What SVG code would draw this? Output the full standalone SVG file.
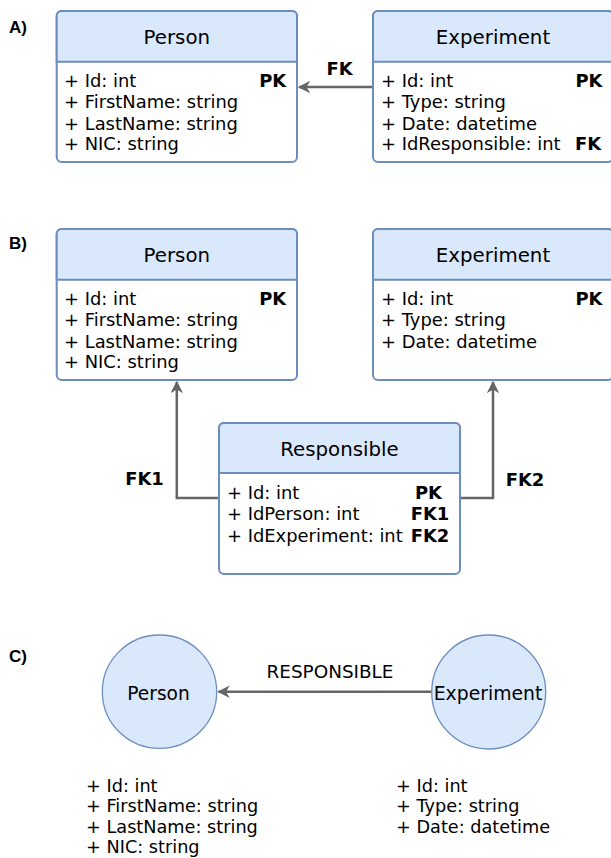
<svg xmlns="http://www.w3.org/2000/svg" width="611" height="858" viewBox="0 0 611 858">
<defs>
<style>
.box{fill:#ffffff;stroke:#6c8ebf;stroke-width:2}
.hdr{fill:#dae8fc;stroke:#6c8ebf;stroke-width:2}
.circ{fill:#dae8fc;stroke:#6c8ebf;stroke-width:1.3}
.title{font-family:"DejaVu Sans",Verdana,sans-serif;font-size:19.8px;fill:#000;text-anchor:middle}
.attr{font-family:"DejaVu Sans",Verdana,sans-serif;font-size:17.9px;fill:#000}
.key{font-family:"DejaVu Sans",Verdana,sans-serif;font-size:17.9px;font-weight:bold;fill:#000;text-anchor:middle}
.lbl{font-family:"DejaVu Sans",Verdana,sans-serif;font-size:17.9px;font-weight:bold;fill:#000;text-anchor:middle}
.sec{font-family:"Liberation Sans",Arial,sans-serif;font-size:17px;font-weight:bold;fill:#000}
.conn{fill:none;stroke:#666666;stroke-width:2.5}
</style>
<marker id="arr" viewBox="0 0 10 10" refX="9" refY="5" markerWidth="5" markerHeight="5" orient="auto" markerUnits="strokeWidth">
<path d="M0,0 L10,5 L0,10 L3,5 Z" fill="#666666"/>
</marker>
</defs>
<rect width="611" height="858" fill="#ffffff"/>

<text class="sec" x="9" y="33">A)</text>
<text class="sec" x="9" y="249">B)</text>
<text class="sec" x="9" y="662">C)</text>

<g id="connectors">
<line class="conn" x1="373" y1="87" x2="299" y2="87" marker-end="url(#arr)"/>
<text class="lbl" x="339.5" y="75">FK</text>
<polyline class="conn" points="219,498 176.8,498 176.8,382" marker-end="url(#arr)"/>
<text class="lbl" x="144.5" y="485">FK1</text>
<polyline class="conn" points="460,498 493,498 493,382" marker-end="url(#arr)"/>
<text class="lbl" x="525" y="486">FK2</text>
<line class="conn" x1="431.7" y1="691.7" x2="218.5" y2="691.7" marker-end="url(#arr)"/>
<text class="title" x="330" y="677.5" style="font-size:18.4px">RESPONSIBLE</text>
</g>

<g id="personA">
<rect class="box" x="56.7" y="11" width="240.3" height="151" rx="5"/>
<path class="hdr" d="M56.7,61.7 V16 a5,5 0 0 1 5,-5 H292 a5,5 0 0 1 5,5 V61.7 Z"/>
<text class="title" x="176.8" y="43.5">Person</text>
<text class="attr" x="64" y="87">+ Id: int</text>
<text class="attr" x="64" y="108">+ FirstName: string</text>
<text class="attr" x="64" y="129.5">+ LastName: string</text>
<text class="attr" x="64" y="150">+ NIC: string</text>
<text class="key" x="272.7" y="87">PK</text>
</g>

<g id="experimentA">
<rect class="box" x="373" y="11" width="240" height="151" rx="5"/>
<path class="hdr" d="M373,61.7 V16 a5,5 0 0 1 5,-5 H608 a5,5 0 0 1 5,5 V61.7 Z"/>
<text class="title" x="493" y="43.5">Experiment</text>
<text class="attr" x="381" y="87">+ Id: int</text>
<text class="attr" x="381" y="108">+ Type: string</text>
<text class="attr" x="381" y="129.5">+ Date: datetime</text>
<text class="attr" x="381" y="150">+ IdResponsible: int</text>
<text class="key" x="589" y="87">PK</text>
<text class="key" x="588" y="150">FK</text>
</g>

<g id="personB">
<rect class="box" x="56.7" y="229" width="240.3" height="151" rx="5"/>
<path class="hdr" d="M56.7,279.7 V234 a5,5 0 0 1 5,-5 H292 a5,5 0 0 1 5,5 V279.7 Z"/>
<text class="title" x="176.8" y="261.5">Person</text>
<text class="attr" x="64" y="305">+ Id: int</text>
<text class="attr" x="64" y="326">+ FirstName: string</text>
<text class="attr" x="64" y="347.5">+ LastName: string</text>
<text class="attr" x="64" y="368">+ NIC: string</text>
<text class="key" x="272.7" y="305">PK</text>
</g>

<g id="experimentB">
<rect class="box" x="373" y="229" width="240" height="151" rx="5"/>
<path class="hdr" d="M373,279.7 V234 a5,5 0 0 1 5,-5 H608 a5,5 0 0 1 5,5 V279.7 Z"/>
<text class="title" x="493" y="261.5">Experiment</text>
<text class="attr" x="381" y="305">+ Id: int</text>
<text class="attr" x="381" y="326">+ Type: string</text>
<text class="attr" x="381" y="347.5">+ Date: datetime</text>
<text class="key" x="589" y="305">PK</text>
</g>

<g id="responsibleB">
<rect class="box" x="219" y="423" width="241" height="151" rx="5"/>
<path class="hdr" d="M219,473 V428 a5,5 0 0 1 5,-5 H455 a5,5 0 0 1 5,5 V473 Z"/>
<text class="title" x="339.5" y="455.5">Responsible</text>
<text class="attr" x="227" y="499">+ Id: int</text>
<text class="attr" x="227" y="520">+ IdPerson: int</text>
<text class="attr" x="227" y="541.5">+ IdExperiment: int</text>
<text class="key" x="428.5" y="499">PK</text>
<text class="key" x="430" y="520">FK1</text>
<text class="key" x="430" y="541.5">FK2</text>
</g>

<g id="personC">
<ellipse class="circ" cx="159.5" cy="691.7" rx="57.2" ry="56.7"/>
<text class="title" x="158.5" y="700" style="font-size:18.6px">Person</text>
<text class="attr" x="86" y="791.5" style="font-size:17.7px">+ Id: int</text>
<text class="attr" x="86" y="812" style="font-size:17.7px">+ FirstName: string</text>
<text class="attr" x="86" y="833" style="font-size:17.7px">+ LastName: string</text>
<text class="attr" x="86" y="853" style="font-size:17.7px">+ NIC: string</text>
</g>

<g id="experimentC">
<ellipse class="circ" cx="488.7" cy="692" rx="57" ry="57"/>
<text class="title" x="488" y="700" style="font-size:18.8px">Experiment</text>
<text class="attr" x="396" y="791.5" style="font-size:17.7px">+ Id: int</text>
<text class="attr" x="396" y="812" style="font-size:17.7px">+ Type: string</text>
<text class="attr" x="396" y="833" style="font-size:17.7px">+ Date: datetime</text>
</g>
</svg>
